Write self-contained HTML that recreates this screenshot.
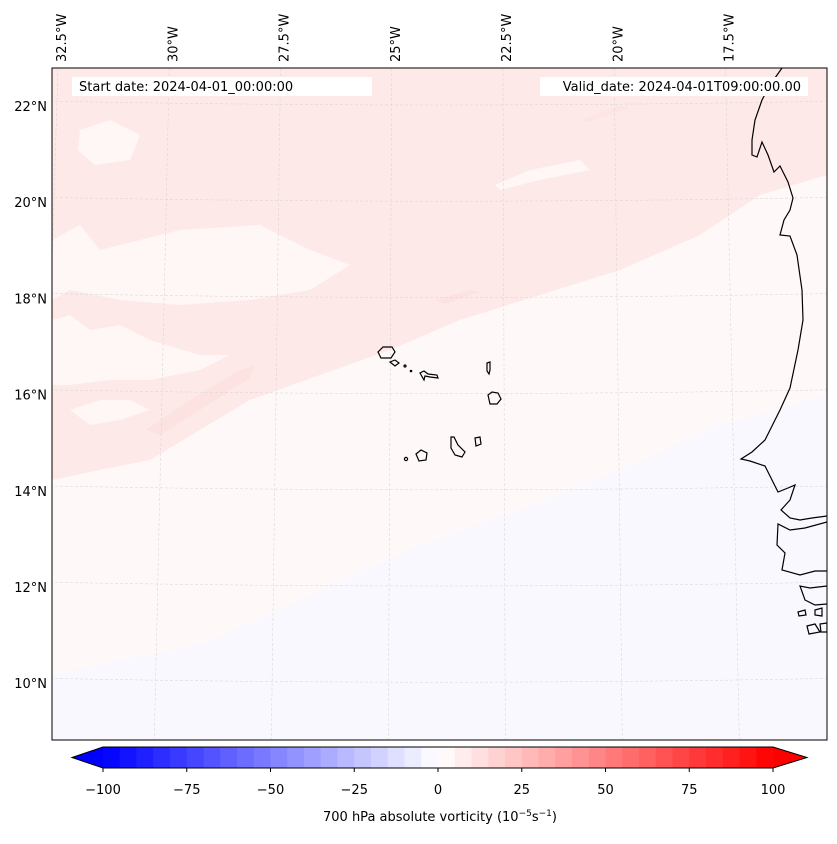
<!DOCTYPE html>
<html><head><meta charset="utf-8"><style>
body{margin:0;background:#fff;width:837px;height:839px;overflow:hidden;font-family:"Liberation Sans","DejaVu Sans",sans-serif}
</style></head><body>
<svg id="fig" width="837" height="839" viewBox="0 0 837 839" xmlns="http://www.w3.org/2000/svg" font-family="DejaVu Sans, Liberation Sans, sans-serif">
<defs><clipPath id="mapclip"><rect x="52" y="68" width="775" height="672"/></clipPath></defs>
<g clip-path="url(#mapclip)">
  <rect x="52" y="68" width="775" height="672" fill="#fff8f8"/>
  <path fill="#f8f8fe" d="M52,675 L120,660 L200,645 L300,600 L420,545 L520,510 L620,470 L720,425 L827,395 L827,740 L52,740 Z"/>
  <path fill="#fee9e9" d="M52,68 L827,68 L827,175 L760,195 L700,235 L620,270 L540,295 L460,320 L390,350 L320,375 L250,400 L200,430 L150,460 L100,470 L52,480 Z"/>
  <path fill="#fff6f6" d="M80,130 L110,120 L140,135 L130,160 L95,165 L78,150 Z"/>
  <path fill="#fff6f6" d="M52,240 L80,225 L100,250 L180,230 L260,225 L310,250 L350,265 L310,290 L250,300 L180,305 L120,300 L70,290 L52,300 Z"/>
  <path fill="#fff6f6" d="M52,320 L70,315 L90,330 L120,325 L150,340 L200,355 L230,355 L200,370 L150,380 L110,380 L70,385 L52,385 Z"/>
  <path fill="#fff6f6" d="M70,410 L100,400 L130,400 L150,410 L120,420 L90,425 Z"/>
  <path fill="#fff6f6" d="M495,185 L530,170 L580,160 L590,170 L540,180 L500,190 Z"/>
  <path fill="#fde2e2" d="M145,430 L190,400 L240,370 L255,365 L250,378 L200,410 L160,435 Z"/>
  <path fill="#fde2e2" d="M435,300 L470,290 L480,292 L445,304 Z"/>
  <path fill="#fde5e5" d="M580,120 L620,105 L630,108 L590,122 Z"/>
  <g id="grid" stroke="#d4d4d4" stroke-width="0.5" stroke-dasharray="3,2" fill="none"></g>
  <g stroke="#000" stroke-width="1.2" fill="none">
    <path d="M782,68 L770,85 L762,100 L755,120 L752,140 L752,155 L757,157 L762,142 L768,155 L774,172 L780,166 L788,182 L793,198 L790,210 L784,220 L780,235 L790,236 L797,255 L802,290 L803,320 L798,350 L790,388 L780,410 L765,440 L752,452 L741,459 L750,461 L765,466 L772,480 L778,492 L788,488 L795,485 L790,500 L781,510 L790,518 L800,520 L812,518 L827,516"/>
    <path d="M827,522 L805,528 L790,530 L778,524 L777,545 L785,553 L782,570 L800,575 L815,571 L827,571"/>
    <path d="M827,586 L810,588 L800,586 L805,600 L815,605 L827,604"/>
    <path d="M798,612 L805,610 L806,615 L799,616 Z M815,610 L822,608 L822,616 L815,615 Z M807,626 L815,624 L820,632 L809,634 Z M820,624 L827,623 L827,632 L821,632 Z"/>
  </g>
  <g stroke="#000" stroke-width="1.2" fill="none">
    <path d="M378,352 L383,347 L392,347 L395,352 L391,358 L381,358 Z"/>
    <path d="M390,362 L395,360 L399,363 L395,366 Z"/>
    <circle cx="405" cy="366" r="1"/>
    <circle cx="411" cy="371" r="0.7"/>
    <path d="M420,373 L424,371 L428,374 L437,375 L438,378 L430,377 L425,376 L424,380 Z"/>
    <path d="M487,363 L490,362 L490,370 L489,374 L487,371 Z"/>
    <path d="M488,395 L492,392 L498,393 L501,399 L497,404 L490,404 Z"/>
    <path d="M451,437 L454,437 L458,445 L465,452 L462,457 L455,455 L451,448 Z"/>
    <path d="M475,438 L480,437 L481,444 L476,446 Z"/>
    <path d="M416,454 L421,450 L427,453 L426,460 L419,461 Z"/>
    <circle cx="406" cy="459" r="1.6"/>
  </g>
</g>
<rect x="52" y="68" width="775" height="672" fill="none" stroke="#000" stroke-width="1"/>
<g>
  <rect x="72" y="77" width="300" height="19" fill="#fff"/>
  <text x="79" y="91" font-size="13">Start date: 2024-04-01_00:00:00</text>
</g>
<g>
  <rect x="540" y="77" width="268" height="19" fill="#fff"/>
  <text x="801" y="91" font-size="13" text-anchor="end">Valid_date: 2024-04-01T09:00:00.00</text>
</g>
<g id="latlabels" font-size="13"></g>
<g id="lonlabels" font-size="13"></g>
<g id="cbar"></g>
<text x="440" y="821" font-size="13" text-anchor="middle">700 hPa absolute vorticity (10<tspan font-size="9" dy="-5">−5</tspan><tspan dy="5">s</tspan><tspan font-size="9" dy="-5">−1</tspan><tspan dy="5">)</tspan></text>
</svg>
<script>
const NS='http://www.w3.org/2000/svg';
const latTicks=[22,20,18,16,14,12,10];
const latLabelText=['22°N','20°N','18°N','16°N','14°N','12°N','10°N'];
const lonTicks=[-32.5,-30,-27.5,-25,-22.5,-20,-17.5];
const lonLabelText=['32.5°W','30°W','27.5°W','25°W','22.5°W','20°W','17.5°W'];
const cbarTicks=[-100,-75,-50,-25,0,25,50,75,100];
const cbarTickText=['−100','−75','−50','−25','0','25','50','75','100'];
const levelMin=-100, levelMax=100, levelStep=5;

function yLat(v){return 107+(22-v)*48.1;}
function xLon(v){return 62+(v+32.5)*44.5;}
function xCb(v){return 103+(v-levelMin)*(670/(levelMax-levelMin));}
function mk(tag,attrs,parent){const e=document.createElementNS(NS,tag);for(const k in attrs)e.setAttribute(k,attrs[k]);parent.appendChild(e);return e;}

const grid=document.getElementById('grid');
latTicks.forEach(v=>{
  const y=yLat(v)-6;
  const p=mk('path',{d:`M40,${y} Q440,${y+8} 840,${y}`},grid);
  
  
});
lonTicks.forEach(v=>{
  const xt=xLon(v)-4, dx=(v+23.5)*2.3;
  const p=mk('path',{d:`M${xt},68 L${xt+dx},740`},grid);
  
  
});
const latG=document.getElementById('latlabels');
latTicks.forEach((v,i)=>{
  const t=mk('text',{x:47,y:yLat(v)+4,'text-anchor':'end'},latG);
  t.textContent=latLabelText[i];
  
  
});
const lonG=document.getElementById('lonlabels');
lonTicks.forEach((v,i)=>{
  const x=xLon(v)+4;
  const t=mk('text',{x:0,y:0,transform:`translate(${x},62) rotate(-90)`},lonG);
  t.textContent=lonLabelText[i];
  
  
});
const cb=document.getElementById('cbar');
function col(v){
  const f=Math.min(1,Math.abs(v)/100), c=Math.round(255*(1-f));
  return v>=0?`rgb(255,${c},${c})`:`rgb(${c},${c},255)`;
}
const y0=747,h=21;
const lt=mk('polygon',{points:`${xCb(levelMin)},${y0} ${xCb(levelMin)},${y0+h} 72,${y0+h/2}`,fill:col(-100)},cb);


const rt=mk('polygon',{points:`${xCb(levelMax)},${y0} ${xCb(levelMax)},${y0+h} 807,${y0+h/2}`,fill:col(100)},cb);


for(let v=levelMin;v<levelMax;v+=levelStep){
  const r=mk('rect',{x:xCb(v),y:y0,width:xCb(v+levelStep)-xCb(v)+0.5,height:h,fill:col(v+levelStep/2)},cb);
  
  
}
const ol=mk('polygon',{points:`72,${y0+h/2} ${xCb(levelMin)},${y0} ${xCb(levelMax)},${y0} 807,${y0+h/2} ${xCb(levelMax)},${y0+h} ${xCb(levelMin)},${y0+h}`,fill:'none',stroke:'#000','stroke-width':1},cb);


cbarTicks.forEach((v,i)=>{
  const x=xCb(v);
  const tk=mk('line',{x1:x,x2:x,y1:y0+h,y2:y0+h+4,stroke:'#000'},cb);
  
  
  const t=mk('text',{x:x,y:794,'text-anchor':'middle','font-size':13},cb);
  t.textContent=cbarTickText[i];
  
  
});
</script>
</body></html>
